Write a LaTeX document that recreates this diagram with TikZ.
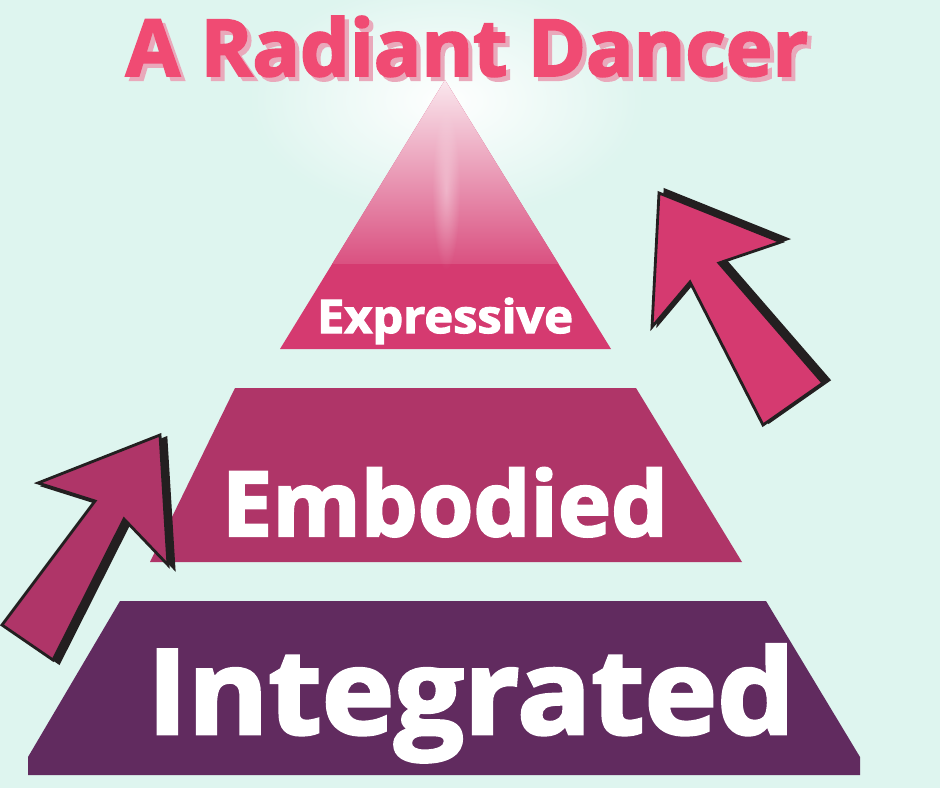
\documentclass[tikz,border=0pt]{standalone}
\usepackage{fontspec}
\setmainfont{Open Sans}[BoldFeatures={FakeBold=2.5}]
\usepackage{tikz}
\usetikzlibrary{shadings,fadings}
\definecolor{mint}{HTML}{DEF5EF}
\definecolor{rosy}{HTML}{F04B73}
\definecolor{rosyshade}{HTML}{E9A9BB}
\definecolor{topband}{HTML}{D53A70}
\definecolor{midband}{HTML}{AF3568}
\definecolor{lowband}{HTML}{612B5F}
\definecolor{ink}{HTML}{231F20}

\tikzfading[name=glowfade, inner color=transparent!0, outer color=transparent!100]

\begin{document}
\begin{tikzpicture}[x=0.025cm, y=-0.025cm,
  layertext/.style={text=white, inner sep=0pt, anchor=base},
  titletext/.style={inner sep=0pt, anchor=base, font=\bfseries\fontsize{56}{56}\selectfont},
  blockarrow/.style={draw=ink, line width=2pt, line join=miter},
  arrowshadow/.style={fill=ink, draw=ink, line width=2pt, line join=miter}
]
  \fill[mint] (0,0) rectangle (940,788);
  \useasboundingbox (0,0) rectangle (940,788);

  % glow behind the apex
  \fill[white, path fading=glowfade] (446,100) ellipse (200 and 120);

  % pyramid
  \fill[topband] (280,349) -- (611,349) -- (445,80) -- cycle;
  \begin{scope}
    \clip (280,349) -- (611,349) -- (445,80) -- cycle;
    \shade[top color=topband!12!white, bottom color=topband!88!white] (250,80) rectangle (640,263);
    \fill[white, opacity=.35, path fading=glowfade] (446,190) ellipse (14 and 80);
  \end{scope}
  \fill[midband] (235,388) -- (636,388) -- (742,562) -- (150,562) -- cycle;
  \fill[lowband] (120,601) -- (766,601) -- (860,757) -- (860,775) -- (28,775) -- (28,757) -- cycle;

  \node[layertext, font=\bfseries\fontsize{33}{33}\selectfont, xscale=1.05] (expressive) at (445,333) {Expressive};
  \node[layertext, font=\bfseries\fontsize{64}{64}\selectfont] (embodied) at (445,536) {Embodied};
  \node[layertext, font=\bfseries\fontsize{84}{84}\selectfont, xscale=1.04] (integrated) at (471,734) {Integrated};

  % title with its offset shade
  \node[titletext, text=rosy] (title) at (467,76)
    {\makebox[0pt][l]{\kern3pt\raisebox{-3pt}{\color{rosyshade}A Radiant Dancer}}A Radiant Dancer};

  % arrows
  \fill[arrowshadow] ([shift={(6,-3)}]659,193) -- ([shift={(6,-3)}]781,242) -- ([shift={(6,-3)}]719,263)
    -- ([shift={(6,-3)}]823,383) -- ([shift={(6,-3)}]763,425) -- ([shift={(6,-3)}]690,282)
    -- ([shift={(6,-3)}]652,327) -- cycle;
  \filldraw[blockarrow, fill=topband] (659,193) -- (781,242) -- (719,263) -- (823,383)
    -- (763,425) -- (690,282) -- (652,327) -- cycle;

  \fill[arrowshadow] ([shift={(6,3)}]160,435) -- ([shift={(6,3)}]38,483) -- ([shift={(6,3)}]95,501)
    -- ([shift={(6,3)}]2,625) -- ([shift={(6,3)}]53,660) -- ([shift={(6,3)}]124,519)
    -- ([shift={(6,3)}]168,565) -- cycle;
  \filldraw[blockarrow, fill=midband] (160,435) -- (38,483) -- (95,501) -- (2,625)
    -- (53,660) -- (124,519) -- (168,565) -- cycle;
\end{tikzpicture}
\end{document}
